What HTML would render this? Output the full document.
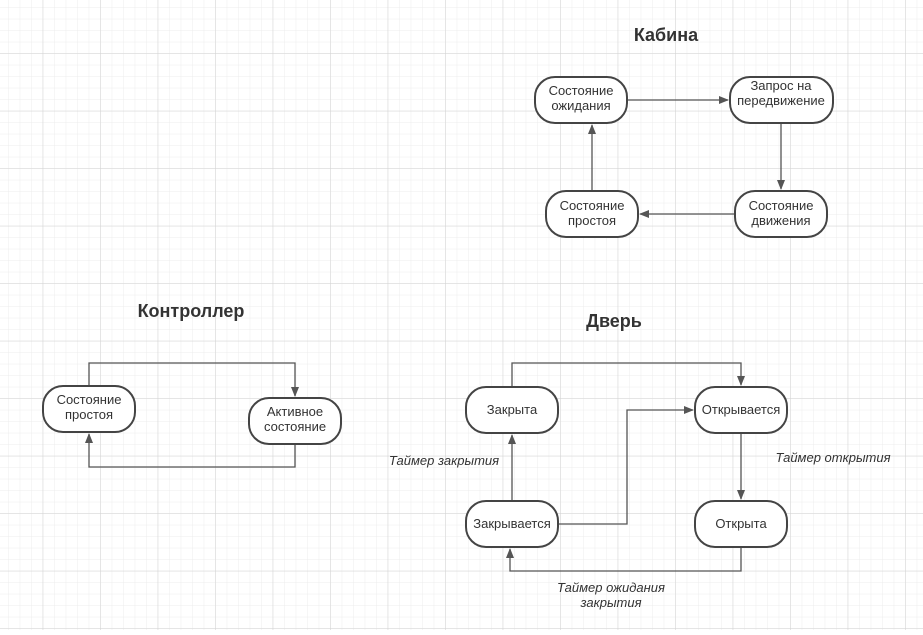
<!DOCTYPE html>
<html><head><meta charset="utf-8"><style>
body{margin:0;width:923px;height:630px;overflow:hidden;background:#fff}
svg text{font-family:"Liberation Sans",sans-serif}
</style></head><body>
<svg width="923" height="630" xmlns="http://www.w3.org/2000/svg">
<defs>
<pattern id="mi" width="11.5" height="11.5" patternUnits="userSpaceOnUse" x="8.2" y="7.3">
<path d="M0 0H11.5M0 0V11.5" stroke="#ececec" stroke-width="1" fill="none"/></pattern>
<pattern id="ma" width="57.5" height="57.5" patternUnits="userSpaceOnUse" x="-14.8" y="-4.2">
<path d="M0 0H57.5M0 0V57.5" stroke="#d4d4d4" stroke-width="1" fill="none"/></pattern>
<marker id="a" markerWidth="10" markerHeight="8" refX="9" refY="4" orient="auto" markerUnits="userSpaceOnUse">
<path d="M0 0L10 4L0 8z" fill="#555"/></marker>
</defs>
<rect width="923" height="630" fill="url(#mi)"/>
<rect width="923" height="630" fill="url(#ma)"/>
<g font-weight="bold" font-size="18" fill="#333" text-anchor="middle">
<text x="666" y="41">Кабина</text>
<text x="191" y="317">Контроллер</text>
<text x="614" y="327">Дверь</text>
</g>
<g fill="none" stroke="#555" stroke-width="1.3">
<path d="M627 100H728" marker-end="url(#a)"/>
<path d="M781 123V189" marker-end="url(#a)"/>
<path d="M735 214H640" marker-end="url(#a)"/>
<path d="M592 191V125" marker-end="url(#a)"/>
<path d="M89 386V363H295V396" marker-end="url(#a)"/>
<path d="M295 444V467H89V434" marker-end="url(#a)"/>
<path d="M512 387V363H741V385" marker-end="url(#a)"/>
<path d="M558 524H627V410H693" marker-end="url(#a)"/>
<path d="M741 433V499" marker-end="url(#a)"/>
<path d="M741 547V571H510V549" marker-end="url(#a)"/>
<path d="M512 501V435" marker-end="url(#a)"/>
</g>
<g fill="#fff" stroke="#444" stroke-width="2">
<rect x="535" y="77" width="92" height="46" rx="20"/>
<rect x="730" y="77" width="103" height="46" rx="20"/>
<rect x="735" y="191" width="92" height="46" rx="20"/>
<rect x="546" y="191" width="92" height="46" rx="20"/>
<rect x="43" y="386" width="92" height="46" rx="20"/>
<rect x="249" y="398" width="92" height="46" rx="20"/>
<rect x="466" y="387" width="92" height="46" rx="20"/>
<rect x="695" y="387" width="92" height="46" rx="20"/>
<rect x="466" y="501" width="92" height="46" rx="20"/>
<rect x="695" y="501" width="92" height="46" rx="20"/>
</g>
<g font-size="13" fill="#333" text-anchor="middle">
<text x="581" y="95">Состояние</text><text x="581" y="110">ожидания</text>
<text x="781" y="90">Запрос на</text><text x="781" y="105">передвижение</text>
<text x="781" y="210">Состояние</text><text x="781" y="225">движения</text>
<text x="592" y="210">Состояние</text><text x="592" y="225">простоя</text>
<text x="89" y="404">Состояние</text><text x="89" y="419">простоя</text>
<text x="295" y="416">Активное</text><text x="295" y="431">состояние</text>
<text x="512" y="414">Закрыта</text>
<text x="741" y="414">Открывается</text>
<text x="512" y="528">Закрывается</text>
<text x="741" y="528">Открыта</text>
</g>
<g font-size="13" fill="#333" font-style="italic" text-anchor="middle">
<text x="444" y="465">Таймер закрытия</text>
<text x="833" y="462">Таймер открытия</text>
<text x="611" y="592">Таймер ожидания</text>
<text x="611" y="607">закрытия</text>
</g>
</svg>
</body></html>
